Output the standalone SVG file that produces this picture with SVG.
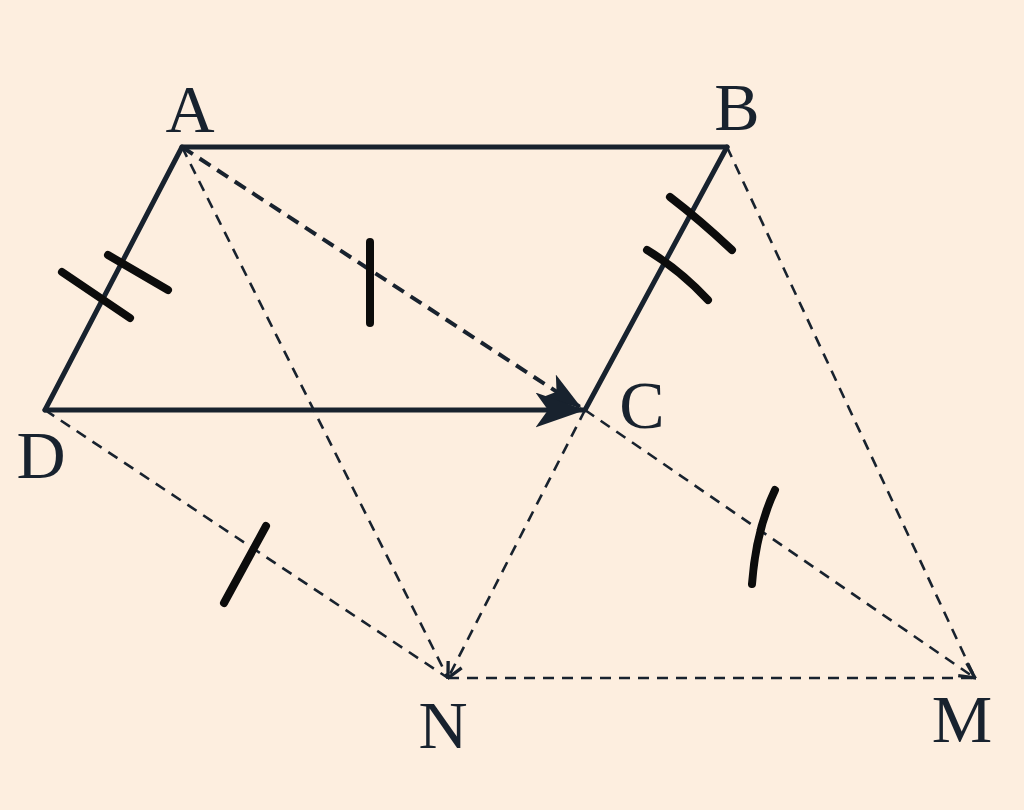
<svg xmlns="http://www.w3.org/2000/svg" width="1024" height="810" viewBox="0 0 1024 810">
<style>
.solid{stroke:#18222e;stroke-width:5;fill:none;stroke-linecap:round}
.dash{stroke:#18222e;stroke-width:2.6;fill:none;stroke-dasharray:11 8}
.dashb{stroke:#18222e;stroke-width:4;fill:none;stroke-dasharray:13 8}
.tick{stroke:#0c0c0c;stroke-width:8;fill:none;stroke-linecap:round}
.lbl{font-family:"Liberation Serif","DejaVu Serif",serif;font-size:68px;fill:#18222e;text-anchor:middle}
</style>
<defs>
<marker id="big" viewBox="0 0 20 14" refX="19" refY="7" markerWidth="10" markerHeight="7" markerUnits="strokeWidth" orient="auto">
<path d="M0,0 L20,7 L0,14 L5,7 Z" fill="#18222e"/>
</marker>
<marker id="small" viewBox="0 0 12 12" refX="11" refY="6" markerWidth="7" markerHeight="7" markerUnits="strokeWidth" orient="auto">
<path d="M1,1 L11,6 L1,11" fill="none" stroke="#18222e" stroke-width="2.2"/>
</marker>
</defs>
<rect width="1024" height="810" fill="#fdeedf"/>
<g id="connectors">
<line class="dash" x1="182" y1="147" x2="448" y2="678"/>
<line class="dash" x1="727" y1="147" x2="975" y2="678"/>
<line class="dash" x1="45" y1="410" x2="448" y2="678"/>
<line class="dash" x1="585" y1="410" x2="448" y2="678" marker-end="url(#small)"/>
<line class="dash" x1="585" y1="410" x2="975" y2="678" marker-end="url(#small)"/>
<line class="dash" x1="448" y1="678" x2="975" y2="678"/>
<line class="dashb" x1="182" y1="147" x2="580" y2="407" marker-end="url(#big)"/>
<line class="solid" x1="182" y1="147" x2="727" y2="147"/>
<line class="solid" x1="182" y1="147" x2="45" y2="410"/>
<line class="solid" x1="727" y1="147" x2="585" y2="410"/>
<line class="solid" x1="45" y1="410" x2="583" y2="410" marker-end="url(#big)"/>
</g>
<g id="ticks">
<path class="tick" d="M62,272 L130,318"/>
<path class="tick" d="M108,255 L168,290"/>
<path class="tick" d="M370,242 L370,323"/>
<path class="tick" d="M670,197 Q700,220 732,250"/>
<path class="tick" d="M647,250 Q680,270 708,300"/>
<path class="tick" d="M266,526 L224,603"/>
<path class="tick" d="M775,490 Q756,530 752,584"/>
</g>
<g id="A"><text class="lbl" x="190" y="132">A</text></g>
<g id="B"><text class="lbl" x="737" y="130">B</text></g>
<g id="C"><text class="lbl" x="642" y="428">C</text></g>
<g id="D"><text class="lbl" x="41" y="478">D</text></g>
<g id="N"><text class="lbl" x="443" y="748">N</text></g>
<g id="M"><text class="lbl" x="962" y="742">M</text></g>
</svg>
